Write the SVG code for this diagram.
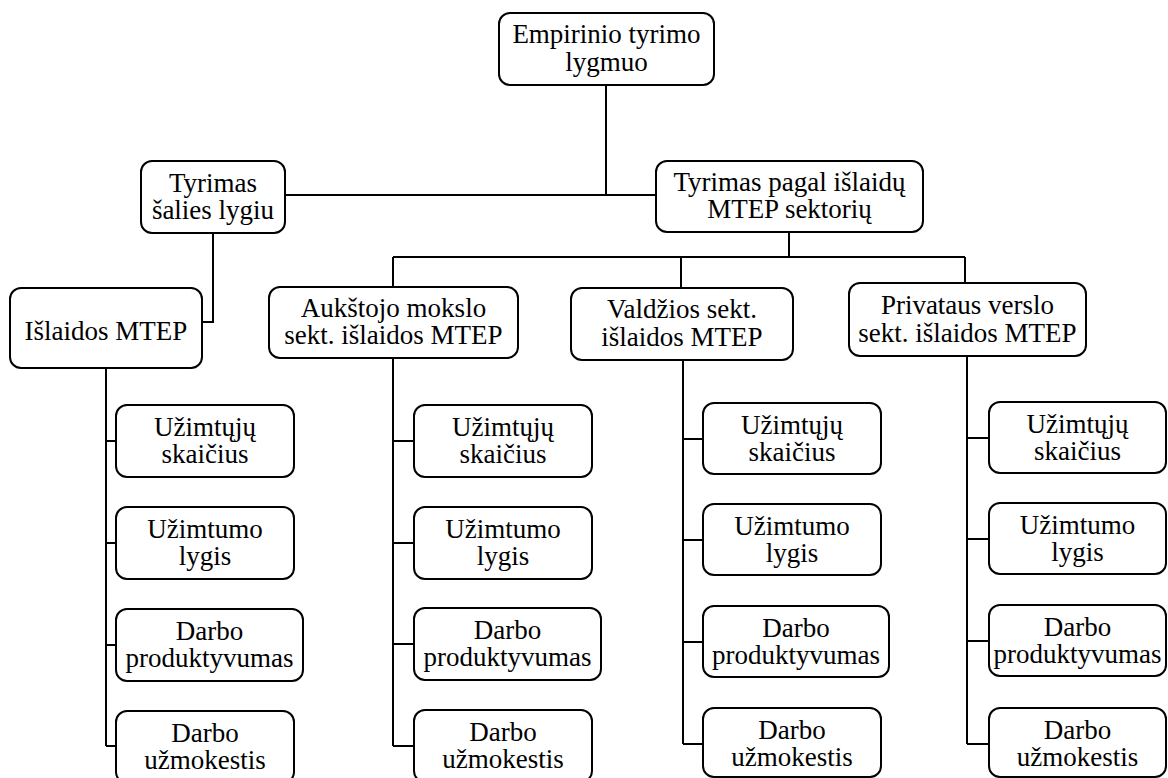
<svg xmlns="http://www.w3.org/2000/svg" width="1168" height="778" viewBox="0 0 1168 778">
  <style>
    .box { fill: #ffffff; stroke: #000000; stroke-width: 2; }
    .t { font-family: "Liberation Serif", "Times New Roman", serif; font-size: 27px; fill: #000000; text-anchor: middle; }
    .wire { fill: none; stroke: #000000; stroke-width: 2; }
  </style>
  <rect width="1168" height="778" fill="#ffffff"/>

  <!-- connectors -->
  <g id="connectors" class="wire">
    <path d="M606 85 V195"/>
    <path d="M285 195 H656"/>
    <path d="M213 233 V322 H202"/>
    <path d="M789 232 V257"/>
    <path d="M393 257 H965"/>
    <path d="M393 257 V287"/>
    <path d="M681 257 V288"/>
    <path d="M965 257 V283"/>
    <!-- column spines and stubs -->
    <path d="M106 368 V746 M106 441 H116 M106 543 H116 M106 645 H116 M106 746 H116"/>
    <path d="M393 358 V746 M393 441 H414 M393 543 H414 M393 644 H414 M393 746 H414"/>
    <path d="M683 360 V744 M683 439 H703 M683 540 H703 M683 642 H703 M683 744 H703"/>
    <path d="M967 356 V744 M967 438 H989 M967 539 H989 M967 641 H989 M967 744 H989"/>
  </g>

  <!-- upper levels -->
  <g id="n-empirinio">
    <rect class="box" x="499" y="13" width="215" height="72" rx="11"/>
    <text class="t"><tspan x="606.5" y="43">Empirinio tyrimo</tspan><tspan x="606.5" y="71">lygmuo</tspan></text>
  </g>
  <g id="n-salies">
    <rect class="box" x="141" y="161" width="144" height="72" rx="11"/>
    <text class="t"><tspan x="213" y="192">Tyrimas</tspan><tspan x="213" y="219">šalies lygiu</tspan></text>
  </g>
  <g id="n-sektoriu">
    <rect class="box" x="656" y="161" width="267" height="71" rx="11"/>
    <text class="t"><tspan x="789.5" y="191">Tyrimas pagal išlaidų</tspan><tspan x="789.5" y="218">MTEP sektorių</tspan></text>
  </g>
  <g id="n-islaidos">
    <rect class="box" x="10" y="288" width="192" height="80" rx="11"/>
    <text class="t"><tspan x="106" y="340">Išlaidos MTEP</tspan></text>
  </g>
  <g id="n-aukstojo">
    <rect class="box" x="269" y="287" width="249" height="71" rx="11"/>
    <text class="t"><tspan x="393.5" y="317">Aukštojo mokslo</tspan><tspan x="393.5" y="344">sekt. išlaidos MTEP</tspan></text>
  </g>
  <g id="n-valdzios">
    <rect class="box" x="571" y="288" width="222" height="72" rx="11"/>
    <text class="t"><tspan x="682" y="318">Valdžios sekt.</tspan><tspan x="682" y="346">išlaidos MTEP</tspan></text>
  </g>
  <g id="n-privataus">
    <rect class="box" x="849" y="283" width="237" height="73" rx="11"/>
    <text class="t"><tspan x="967.5" y="314">Privataus verslo</tspan><tspan x="967.5" y="342">sekt. išlaidos MTEP</tspan></text>
  </g>

  <!-- column 1 -->
  <g id="c1-uzimtuju">
    <rect class="box" x="116" y="405" width="178" height="72" rx="11"/>
    <text class="t"><tspan x="205" y="436">Užimtųjų</tspan><tspan x="205" y="463">skaičius</tspan></text>
  </g>
  <g id="c1-uzimtumo">
    <rect class="box" x="116" y="507" width="178" height="72" rx="11"/>
    <text class="t"><tspan x="205" y="538">Užimtumo</tspan><tspan x="205" y="565">lygis</tspan></text>
  </g>
  <g id="c1-produktyvumas">
    <rect class="box" x="116" y="609" width="187" height="72" rx="11"/>
    <text class="t"><tspan x="209.5" y="640">Darbo</tspan><tspan x="209.5" y="667">produktyvumas</tspan></text>
  </g>
  <g id="c1-uzmokestis">
    <rect class="box" x="116" y="711" width="178" height="72" rx="11"/>
    <text class="t"><tspan x="205" y="742">Darbo</tspan><tspan x="205" y="769">užmokestis</tspan></text>
  </g>

  <!-- column 2 -->
  <g id="c2-uzimtuju">
    <rect class="box" x="414" y="405" width="178" height="72" rx="11"/>
    <text class="t"><tspan x="503" y="436">Užimtųjų</tspan><tspan x="503" y="463">skaičius</tspan></text>
  </g>
  <g id="c2-uzimtumo">
    <rect class="box" x="414" y="507" width="178" height="72" rx="11"/>
    <text class="t"><tspan x="503" y="538">Užimtumo</tspan><tspan x="503" y="565">lygis</tspan></text>
  </g>
  <g id="c2-produktyvumas">
    <rect class="box" x="414" y="608" width="187" height="72" rx="11"/>
    <text class="t"><tspan x="507.5" y="639">Darbo</tspan><tspan x="507.5" y="666">produktyvumas</tspan></text>
  </g>
  <g id="c2-uzmokestis">
    <rect class="box" x="414" y="710" width="178" height="72" rx="11"/>
    <text class="t"><tspan x="503" y="741">Darbo</tspan><tspan x="503" y="768">užmokestis</tspan></text>
  </g>

  <!-- column 3 -->
  <g id="c3-uzimtuju">
    <rect class="box" x="703" y="403" width="178" height="71" rx="11"/>
    <text class="t"><tspan x="792" y="434">Užimtųjų</tspan><tspan x="792" y="461">skaičius</tspan></text>
  </g>
  <g id="c3-uzimtumo">
    <rect class="box" x="703" y="504" width="178" height="71" rx="11"/>
    <text class="t"><tspan x="792" y="535">Užimtumo</tspan><tspan x="792" y="562">lygis</tspan></text>
  </g>
  <g id="c3-produktyvumas">
    <rect class="box" x="703" y="606" width="186" height="71" rx="11"/>
    <text class="t"><tspan x="796" y="637">Darbo</tspan><tspan x="796" y="664">produktyvumas</tspan></text>
  </g>
  <g id="c3-uzmokestis">
    <rect class="box" x="703" y="708" width="178" height="69" rx="11"/>
    <text class="t"><tspan x="792" y="739">Darbo</tspan><tspan x="792" y="766">užmokestis</tspan></text>
  </g>

  <!-- column 4 -->
  <g id="c4-uzimtuju">
    <rect class="box" x="989" y="402" width="177" height="71" rx="11"/>
    <text class="t"><tspan x="1077.5" y="433">Užimtųjų</tspan><tspan x="1077.5" y="460">skaičius</tspan></text>
  </g>
  <g id="c4-uzimtumo">
    <rect class="box" x="989" y="503" width="177" height="71" rx="11"/>
    <text class="t"><tspan x="1077.5" y="534">Užimtumo</tspan><tspan x="1077.5" y="561">lygis</tspan></text>
  </g>
  <g id="c4-produktyvumas">
    <rect class="box" x="989" y="605" width="177" height="71" rx="11"/>
    <text class="t"><tspan x="1077.5" y="636">Darbo</tspan><tspan x="1077.5" y="663">produktyvumas</tspan></text>
  </g>
  <g id="c4-uzmokestis">
    <rect class="box" x="989" y="708" width="177" height="69" rx="11"/>
    <text class="t"><tspan x="1077.5" y="739">Darbo</tspan><tspan x="1077.5" y="766">užmokestis</tspan></text>
  </g>
</svg>
